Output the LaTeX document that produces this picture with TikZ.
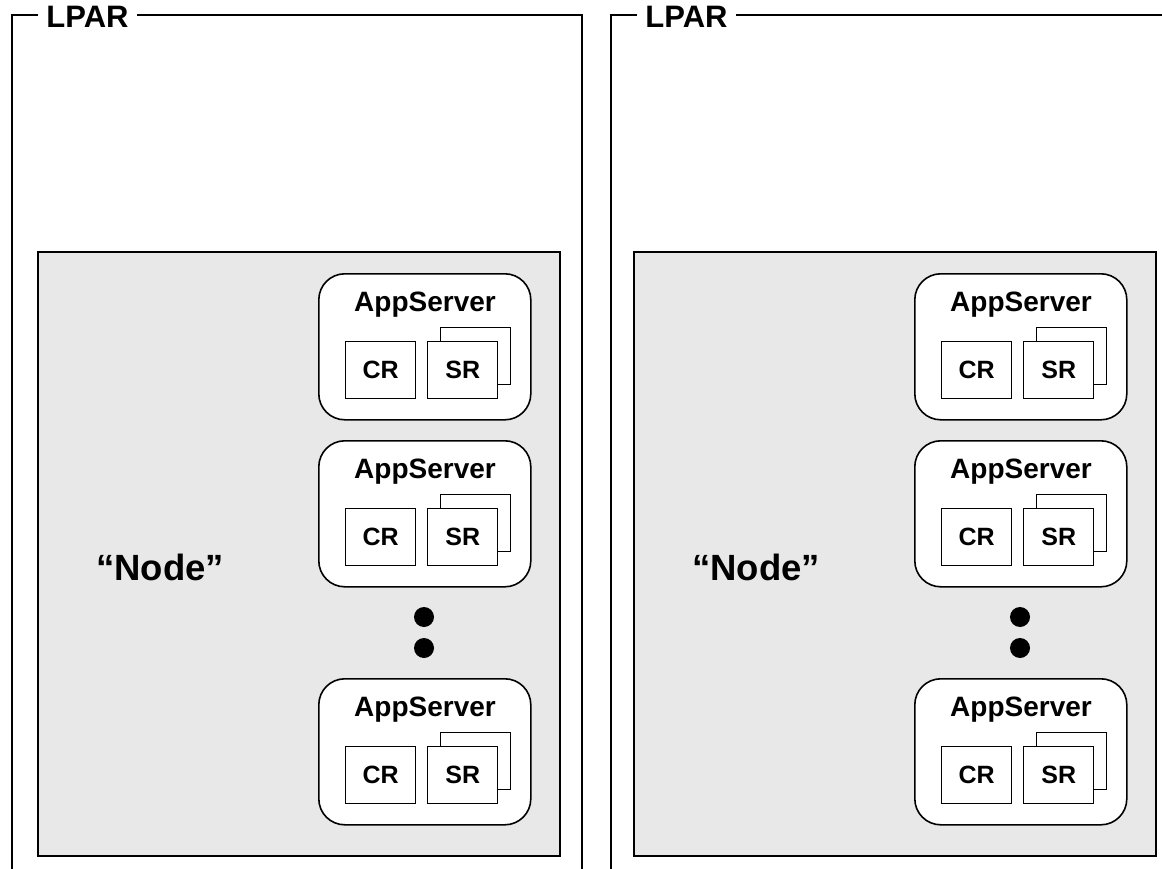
\documentclass[tikz,border=0pt]{standalone}
\usepackage{fontspec}
\setmainfont{Liberation Sans}
\begin{document}
\begin{tikzpicture}[x=1pt,y=-1pt,
  lparline/.style={draw=black, line width=1.6pt},
  lparlabel/.style={fill=white, inner xsep=8pt, inner ysep=2pt, anchor=base, font=\fontsize{31}{31}\selectfont\bfseries},
  nodebox/.style={draw=black, fill=black!9, line width=1.6pt, anchor=north west, inner sep=0pt},
  nodelabel/.style={anchor=base, font=\fontsize{36.5}{36.5}\selectfont\bfseries},
  asbox/.style={draw=black, fill=white, line width=1.6pt, rounded corners=26pt, anchor=north west, inner sep=0pt, minimum width=212pt, minimum height=146pt},
  astitle/.style={anchor=base, font=\fontsize{28}{28}\selectfont\bfseries},
  smallbox/.style={draw=black, fill=white, line width=1.4pt, anchor=north west, inner sep=0pt, minimum width=70pt, minimum height=57pt, font=\fontsize{25}{25}\selectfont\bfseries},
  dot/.style={circle, fill=black, inner sep=0pt, minimum size=20pt},
  appserver/.pic={
    \node[asbox] (-box) at (0,0) {};
    \node[astitle] (-title) at (107,38) {AppServer};
    \node[smallbox] (-cr) at (27,68) {CR};
    \node[smallbox] (-srb) at (122,54) {};
    \node[smallbox] (-sr) at (109,68) {SR};
  }]
\useasboundingbox (0,0) rectangle (1162,869);
% LPAR frames
\draw[lparline] (12,870) -- (12,15) -- (582,15) -- (582,870);
\node[lparlabel] (lp1) at (87.5,28) {LPAR};
\draw[lparline] (611,870) -- (611,15) -- (1181,15) -- (1181,870);
\node[lparlabel] (lp2) at (686.5,28) {LPAR};
% Node boxes
\node[nodebox, minimum width=522pt, minimum height=604pt] (n1) at (37,251) {};
\node[nodebox, minimum width=522pt, minimum height=604pt] (n2) at (633,251) {};
\node[nodelabel] (n1l) at (160,580) {``Node''};
\node[nodelabel] (n2l) at (756,580) {``Node''};
% App servers left
\pic (a1) at (318,273) {appserver};
\pic (a2) at (318,440) {appserver};
\pic (a3) at (318,678) {appserver};
\node[dot] (d1) at (424,617) {};
\node[dot] (d2) at (424,648) {};
% App servers right
\pic (b1) at (914,273) {appserver};
\pic (b2) at (914,440) {appserver};
\pic (b3) at (914,678) {appserver};
\node[dot] (e1) at (1020,617) {};
\node[dot] (e2) at (1020,648) {};
\end{tikzpicture}
\end{document}
